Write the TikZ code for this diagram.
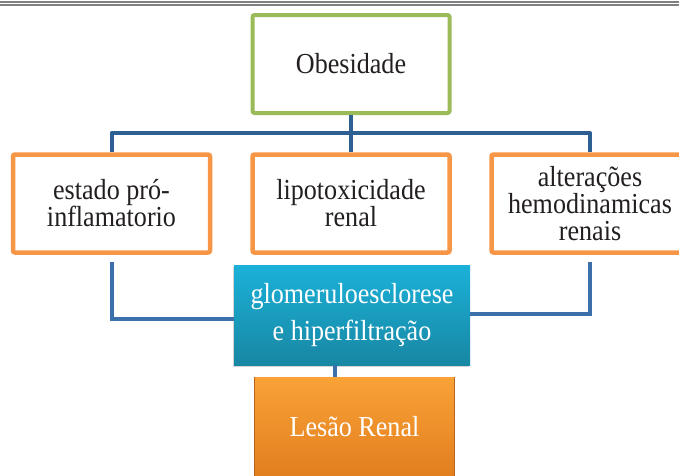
\documentclass[tikz,border=0pt]{standalone}
\usepackage{fontspec}
\setmainfont{Liberation Serif}[FakeStretch=0.9]
\usetikzlibrary{shadows}
\definecolor{boxgreen}{HTML}{9BBB59}
\definecolor{boxorange}{HTML}{F79646}
\definecolor{linkblue}{HTML}{2D5F92}
\definecolor{linkblue2}{HTML}{3B70AB}
\definecolor{glomtop}{HTML}{1BB1D9}
\definecolor{glombot}{HTML}{1887A3}
\definecolor{lestop}{HTML}{F9A236}
\definecolor{lesbot}{HTML}{E27E1F}
\definecolor{lesedge}{HTML}{B8641C}
\definecolor{rulegray}{HTML}{808080}
\definecolor{txtdark}{HTML}{231F20}
\begin{document}
\begin{tikzpicture}[x=1pt,y=-1pt,
  whitebox/.style={draw, line width=4.5pt, rounded corners=2pt, fill=white,
    minimum width=197pt, minimum height=98pt, inner sep=0pt, align=center,
    text=txtdark, font=\fontsize{29}{27}\selectfont},
  greenbox/.style={whitebox, draw=boxgreen, line width=4pt},
  orangebox/.style={whitebox, draw=boxorange},
  link/.style={draw=linkblue, line width=4pt},
  link2/.style={draw=linkblue2, line width=4pt},
]
\useasboundingbox (0,0) rectangle (679,475);
% top rule
\draw[rulegray, line width=2pt] (0,2) -- (679,2);
\draw[rulegray, line width=1.5pt] (0,5) -- (679,5);

% nodes
\node[greenbox] (obes) at (351,64) {Obesidade};
\node[orangebox] (left) at (111.5,203.5) {estado pró-\\inflamatorio};
\node[orangebox] (mid) at (351,203.5) {lipotoxicidade\\renal};
\node[orangebox] (right) at (590,203.5) {alterações\\hemodinamicas\\renais};

\node[minimum width=236pt, minimum height=100pt, inner sep=0pt,
  top color=glomtop, bottom color=glombot, text=white, align=center,
  font=\fontsize{29}{37}\selectfont,
  drop shadow={shadow xshift=-1pt, shadow yshift=-2pt, opacity=0.35}]
  (glom) at (352,315) {glomeruloesclorese\\ e hiperfiltração};

\node[minimum width=199pt, minimum height=100pt, inner sep=0pt,
  top color=lestop, bottom color=lesbot, text=white, align=center,
  font=\fontsize{29}{27}\selectfont,
  drop shadow={shadow xshift=0pt, shadow yshift=-2pt, opacity=0.3}]
  (les) at (354.5,427) {Lesão Renal};
\draw[lesedge, line width=1.2pt] (les.north west) -- (les.south west);
\draw[lesedge, line width=1.2pt] (les.north east) -- (les.south east);

% connectors
\coordinate (hb) at (351,133);
\draw[link] (obes.south) -- (hb);
\draw[link, line join=round] (left.north) |- (hb) -| (right.north);
\draw[link] (hb) -- (mid.north);
\draw[link2, shorten <=7pt] (left.south) |- ([yshift=-4pt]glom.west);
\draw[link2, shorten <=7pt] (right.south) |- ([yshift=1pt]glom.east);
\draw[link2] ([xshift=-17pt]glom.south) -- ([xshift=-17pt]glom.south |- les.north);
\end{tikzpicture}
\end{document}
